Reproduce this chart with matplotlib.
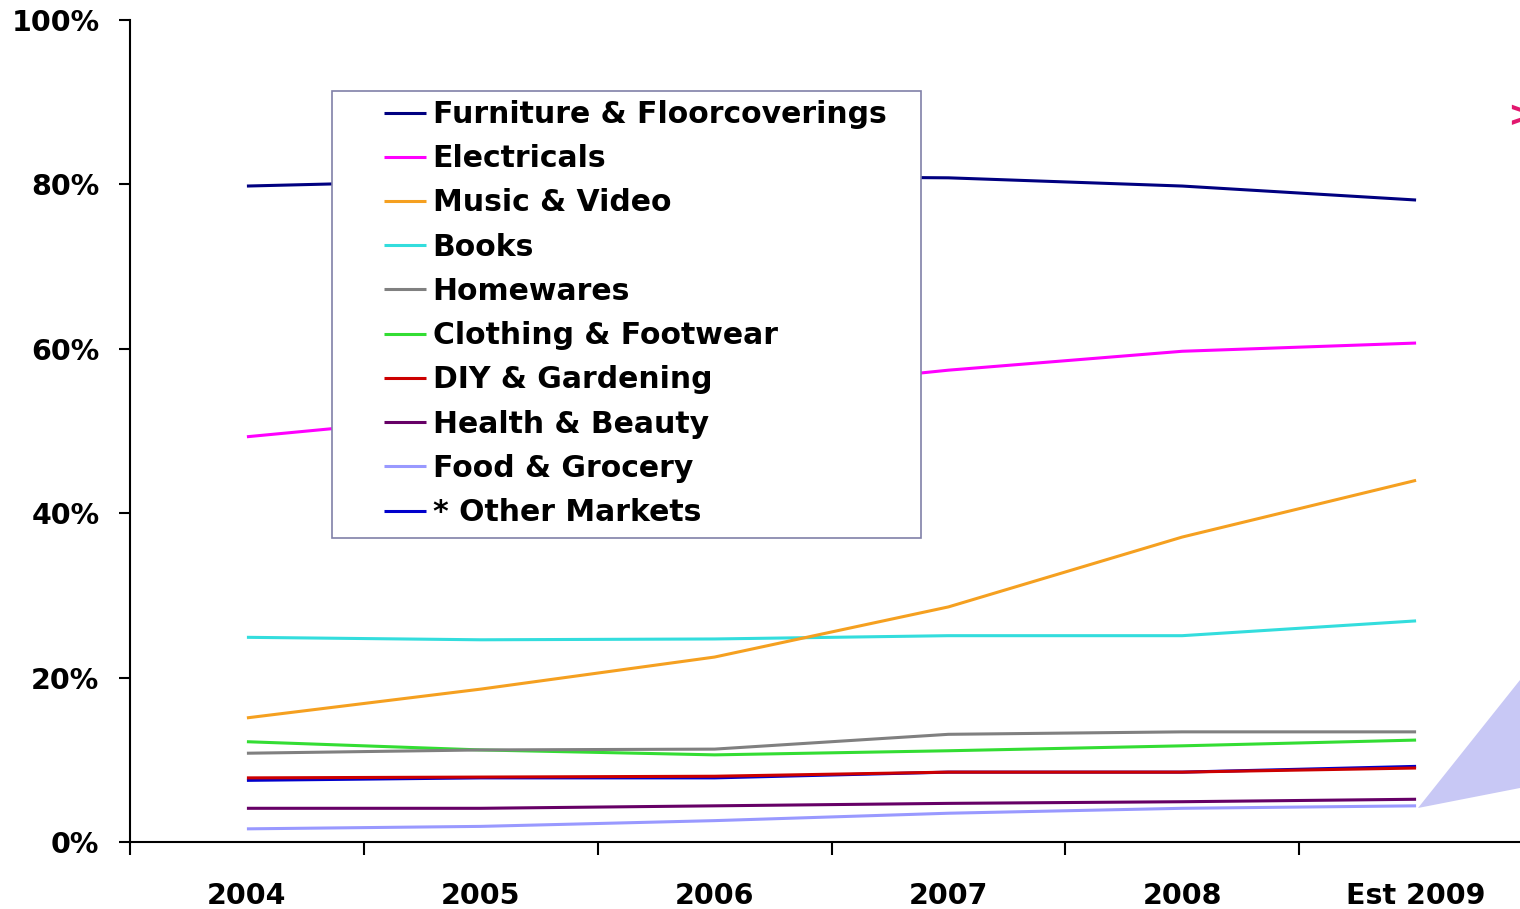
import matplotlib.pyplot as plt
from matplotlib.patches import Rectangle, Polygon

# categories and share values (%)
years = ['2004', '2005', '2006', '2007', '2008', 'Est 2009']

furniture = [79.8, 80.5, 81.0, 80.8, 79.8, 78.1]
electricals = [49.3, 52.0, 54.5, 57.4, 59.7, 60.7]
music = [15.1, 18.6, 22.5, 28.6, 37.1, 44.0]
books = [24.9, 24.6, 24.7, 25.1, 25.1, 26.9]
homewares = [10.8, 11.2, 11.3, 13.1, 13.4, 13.4]
clothing = [12.2, 11.2, 10.6, 11.1, 11.7, 12.4]
diy = [7.8, 7.9, 8.0, 8.5, 8.5, 9.0]
health = [4.1, 4.1, 4.4, 4.7, 4.9, 5.2]
food = [1.6, 1.9, 2.6, 3.5, 4.1, 4.4]
other = [7.5, 7.8, 7.8, 8.5, 8.5, 9.2]

series = [
    ('Furniture & Floorcoverings', furniture, '#000080'),
    ('Electricals', electricals, '#FF00FF'),
    ('Music & Video', music, '#F5A020'),
    ('Books', books, '#33DDDD'),
    ('Homewares', homewares, '#808080'),
    ('Clothing & Footwear', clothing, '#33DD33'),
    ('DIY & Gardening', diy, '#CC0000'),
    ('Health & Beauty', health, '#660066'),
    ('Food & Grocery', food, '#9999FF'),
    ('* Other Markets', other, '#0000CC'),
]

plt.rcParams['font.family'] = ['DejaVu Sans']
plt.rcParams['font.weight'] = 'bold'

W, H = 1520, 909
fig = plt.figure(figsize=(W / 100, H / 100), dpi=100)

# axes: left spine at x=130px, 0% at y=842px, 100% at y=20px; right edge runs past the figure
ax = fig.add_axes([130 / W, (H - 842) / H, 1403 / W, 822 / H])

x = list(range(len(years)))
# draw in reverse order so the first series sit on top
for name, vals, col in reversed(series):
    ax.plot(x, vals, color=col, lw=2.2, label=name, solid_capstyle='butt')

ax.set_xlim(-0.5, len(years) - 0.5)
ax.set_ylim(0, 100)

for s in ['top', 'right']:
    ax.spines[s].set_visible(False)
ax.spines['left'].set_linewidth(1.5)
ax.spines['bottom'].set_linewidth(1.5)

# category boundaries as major ticks, year labels as minor ticks
ax.set_xticks([i - 0.5 for i in range(len(years) + 1)])
ax.set_xticklabels([])
ax.set_xticks(x, minor=True)
ax.set_xticklabels(years, minor=True, fontsize=20.5, fontweight='bold')
ax.tick_params(axis='x', which='major', length=9, width=1.5, direction='out')
ax.tick_params(axis='x', which='minor', length=0, pad=28.5)

ax.set_yticks([0, 20, 40, 60, 80, 100])
ax.set_yticklabels([f'{v}%' for v in [0, 20, 40, 60, 80, 100]], fontsize=20.5, fontweight='bold')
ax.tick_params(axis='y', length=8, width=1.5, direction='out', pad=14)

# legend with its own frame drawn as a rectangle
handles, labels = ax.get_legend_handles_labels()
handles, labels = handles[::-1], labels[::-1]
leg = fig.legend(handles, labels, loc='upper left',
                 bbox_to_anchor=(384 / W, 1 - 100 / H), frameon=False,
                 prop={'size': 21.5, 'weight': 'bold'},
                 handlelength=1.4, handletextpad=0.23, labelspacing=0.51,
                 borderpad=0, borderaxespad=0)
fig.patches.append(Rectangle((332 / W, 1 - 538 / H), (921 - 332) / W, (538 - 91) / H,
                             transform=fig.transFigure, facecolor='white',
                             edgecolor='#8080A8', lw=1.2, zorder=2))
leg.set_zorder(3)

# partial callout shapes cut by the right edge
fig.patches.append(Polygon([(1418 / W, 1 - 808 / H), (1520 / W, 1 - 680 / H), (1520 / W, 1 - 788 / H)],
                           closed=True, transform=fig.transFigure,
                           facecolor='#C8C8F5', edgecolor='none'))
fig.text(1507 / W, 1 - 116 / H, '>', color='#E2176E', fontsize=26,
         fontweight='bold', va='center', ha='left')

fig.savefig('out.png', dpi=100)
